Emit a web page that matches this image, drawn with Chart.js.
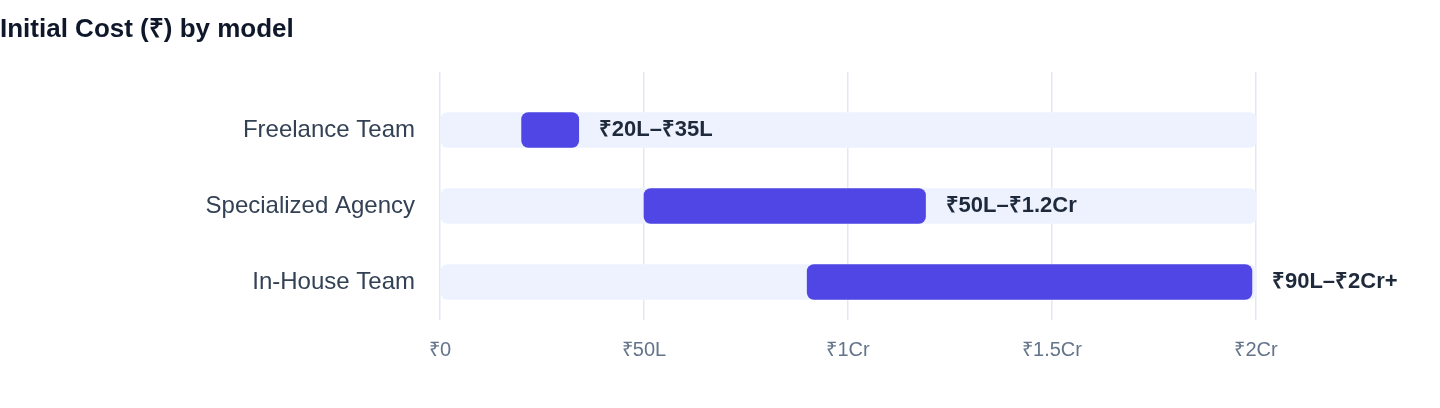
<!DOCTYPE html>
<html>
<head>
<meta charset="utf-8">
<script src="https://cdn.jsdelivr.net/npm/chart.js@4.4.1/dist/chart.umd.min.js"></script>
<style>
  body { margin: 0; background: #fff; }
  .wrap { position: relative; width: 1440px; height: 408px; }
  .title { position: absolute; left: 0; top: 15px; margin: 0; font: bold 26px/26px "Liberation Sans", Arial, sans-serif; color: #0f172a; z-index: 2; }
  canvas { position: absolute; left: 0; top: 0; }
</style>
</head>
<body>
<div class="wrap">
  <h2 class="title">Initial Cost (₹) by model</h2>
  <canvas id="cost" width="1440" height="408"></canvas>
</div>
<script>
// values in lakhs (₹L); 100L = ₹1Cr
const models = ['Freelance Team', 'Specialized Agency', 'In-House Team'];
const costStart = [20, 50, 90];
const costEnd = [34, 119, 199];
const rangeLabels = ['₹20L–₹35L', '₹50L–₹1.2Cr', '₹90L–₹2Cr+'];
const trackMax = 200;
const tickValues = [0, 50, 100, 150, 200];
const tickLabels = ['₹0', '₹50L', '₹1Cr', '₹1.5Cr', '₹2Cr'];

const FONT = '"Liberation Sans", Arial, sans-serif';
const GRID = '#e2e8f0';

Chart.defaults.font.family = FONT;

// range text after the end of each indigo bar
const rangeText = {
    id: 'rangeText',
    afterDatasetsDraw(chart) {
        const ctx = chart.ctx;
        const meta = chart.getDatasetMeta(0);
        ctx.save();
        ctx.font = 'bold 22px ' + FONT;
        ctx.fillStyle = '#1e293b';
        ctx.textAlign = 'left';
        ctx.textBaseline = 'middle';
        meta.data.forEach((bar, i) => {
            ctx.fillText(rangeLabels[i], bar.x + 20, bar.y);
        });
        ctx.restore();
    }
};

const fmtTick = v => {
    const i = tickValues.indexOf(v);
    return i >= 0 ? tickLabels[i] : '';
};

new Chart(document.getElementById('cost'), {
    type: 'bar',
    data: {
        labels: models,
        datasets: [
            {
                label: 'Initial cost',
                data: models.map((m, i) => [costStart[i], costEnd[i]]),
                backgroundColor: '#4f46e5',
                borderRadius: 7,
                borderSkipped: false,
                barThickness: 35,
                grouped: false
            },
            {
                label: 'Scale',
                data: models.map(() => [0, trackMax]),
                backgroundColor: '#eef2ff',
                borderRadius: 7,
                borderSkipped: false,
                barThickness: 35,
                grouped: false
            }
        ]
    },
    options: {
        indexAxis: 'y',
        responsive: false,
        animation: false,
        layout: { padding: { left: 0, right: 184, top: 72, bottom: 38 } },
        plugins: {
            legend: { display: false },
            tooltip: { enabled: false }
        },
        scales: {
            x: {
                type: 'linear',
                position: 'bottom',
                min: 0,
                max: trackMax,
                afterBuildTicks: s => { s.ticks = tickValues.map(v => ({ value: v })); },
                afterFit: s => { s.height = 50; },
                ticks: { callback: fmtTick, color: '#64748b', font: { size: 20 }, padding: 18, maxRotation: 0 },
                grid: { color: GRID, lineWidth: 1.5, drawTicks: false },
                border: { display: false }
            },
            xTop: {
                type: 'linear',
                position: 'top',
                axis: 'x',
                min: 0,
                max: trackMax,
                afterBuildTicks: s => { s.ticks = tickValues.map(v => ({ value: v })); },
                afterFit: s => { s.height = 20; },
                ticks: { display: false },
                grid: { color: GRID, lineWidth: 1.5, drawOnChartArea: false, drawTicks: true, tickLength: 20 },
                border: { display: false }
            },
            y: {
                afterFit: s => { s.width = 440; },
                ticks: { color: '#334155', font: { size: 24 }, padding: 17 },
                grid: { display: false },
                border: { display: false }
            }
        }
    },
    plugins: [rangeText]
});
</script>
</body>
</html>
